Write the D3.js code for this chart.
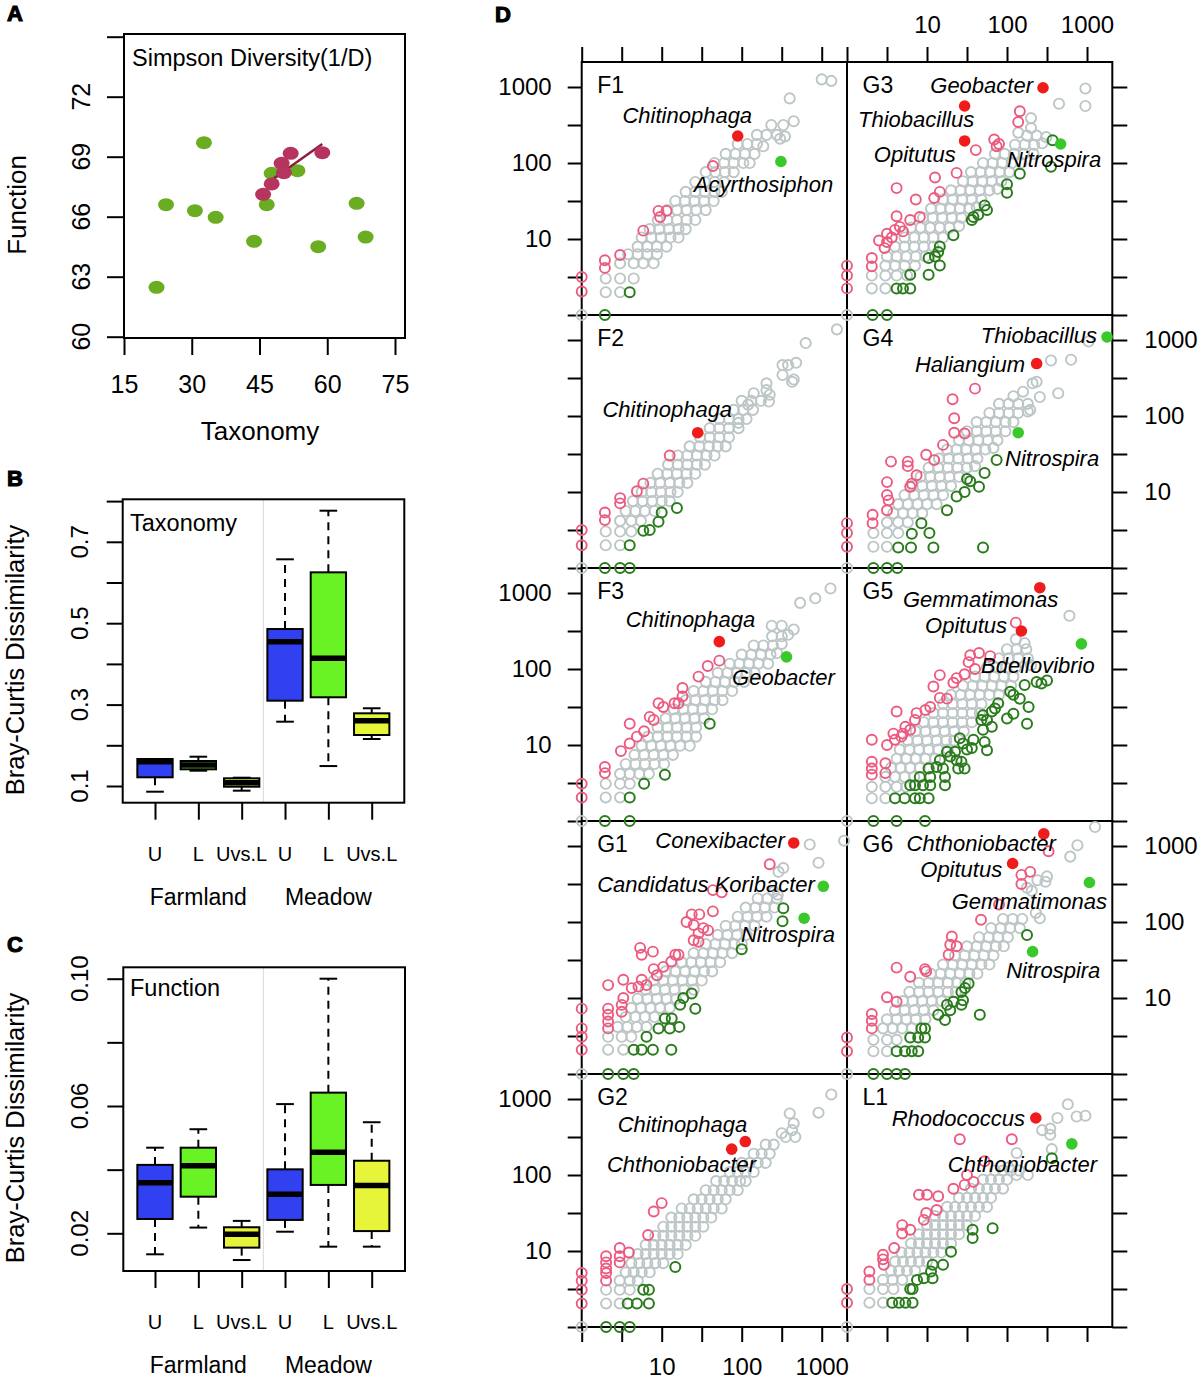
<!DOCTYPE html>
<html><head><meta charset="utf-8">
<script src="https://cdn.jsdelivr.net/npm/d3@7"></script>
<style>body{margin:0;background:#fff}svg{display:block}</style>
</head><body><svg id="c" width="1200" height="1384"></svg>
<script>
// ================= DATA =================
// Panel A : Simpson diversity (1/D), taxonomy vs function
const taxGreen = [32.7,24.3,30.7,35.3,22.2,43.8,46.6,47.7,53.4,58.0,66.5,68.5];
const funGreen = [69.7,66.6,66.3,65.97,62.47,64.77,66.6,68.17,68.3,64.5,66.67,64.98];
const taxRed = [45.8,47.7,49.9,50.4,51.9,58.9];
const funRed = [67.12,67.64,68.67,68.2,69.17,69.2];
const fitLine = [[46.1,67.58],[58.9,69.63]];
const aTicksX = [15,30,45,60,75];
const aTicksY = [60,63,66,69,72,75];
const aLabelsY = [60,63,66,69,72];

// Panels B / C : Bray-Curtis dissimilarity boxplots
const boxGroups = ["U","L","Uvs.L","U","L","Uvs.L"];
const boxSites = ["Farmland","Meadow"];
const taxMin = [0.086,0.1376,0.0885,0.258,0.149,0.2155];
const taxQ1  = [0.1214,0.141,0.0983,0.3096,0.318,0.2253];
const taxMed = [0.1597,0.1516,0.1081,0.4546,0.4137,0.2605];
const taxQ3  = [0.1663,0.1614,0.1189,0.4857,0.625,0.2786];
const taxMax = [0.1663,0.172,0.1204,0.657,0.7764,0.291];
const funMin = [0.0134,0.0218,0.0116,0.0205,0.0158,0.0158];
const funQ1  = [0.0245,0.0315,0.0155,0.0242,0.0352,0.0207];
const funMed = [0.0359,0.0412,0.0197,0.0323,0.0455,0.035];
const funQ3  = [0.0415,0.0469,0.0219,0.0401,0.0642,0.0428];
const funMax = [0.0469,0.0527,0.0239,0.0606,0.10,0.0549];
const bTicks = [0.1,0.2,0.3,0.4,0.5,0.6,0.7,0.8];
const bLabels = [0.1,0.3,0.5,0.7];
const cTicks = [0.02,0.04,0.06,0.08,0.10];
const cLabels = [0.02,0.06,0.10];

// Panel D : log10 abundance, [x, y]
const dTicks = [0,0.5,1,1.5,2,2.5,3];
const dTickText = {1:"10",2:"100",3:"1000"};

const F1_grey = [[0,0],[.30,.30],[.48,.30],[.30,.48],[.48,.48],[.65,.48],[.48,.68],[.65,.68],[.77,.68],[.90,.68],[.58,.80],[.70,.80],[.82,.80],[.94,.80],[.70,.90],[.82,.90],[.94,.90],[1.06,.90],[.75,1.02],[.87,1.02],[.99,1.02],[1.11,1.02],[1.21,1.02],[.85,1.13],[.97,1.13],[1.09,1.13],[1.21,1.13],[1.30,1.13],[.95,1.25],[1.07,1.25],[1.19,1.25],[1.31,1.25],[1.42,1.25],[1.07,1.38],[1.19,1.38],[1.31,1.38],[1.43,1.38],[1.55,1.38],[1.17,1.50],[1.29,1.50],[1.41,1.50],[1.53,1.50],[1.65,1.50],[1.30,1.62],[1.42,1.62],[1.54,1.62],[1.66,1.62],[1.75,1.62],[1.42,1.75],[1.54,1.75],[1.66,1.75],[1.78,1.75],[1.55,1.88],[1.67,1.88],[1.79,1.88],[1.90,1.88],[1.66,2.00],[1.78,2.00],[1.90,2.00],[2.02,2.00],[2.10,2.00],[1.80,2.12],[1.92,2.12],[2.04,2.12],[2.16,2.12],[1.95,2.25],[2.07,2.25],[2.19,2.25],[2.27,2.22],[2.19,2.37],[2.31,2.37],[2.44,2.37],[2.54,2.35],[2.48,2.32],[2.37,2.50],[2.52,2.50],[2.65,2.55],[2.60,2.85],[3.00,3.10],[3.12,3.08]];
const F1_pink = [[0,.50],[0,.31],[.29,.72],[.29,.62],[.48,.79],[.77,1.11],[.96,1.37],[.98,1.29],[1.06,1.37],[1.64,1.96]];
const F1_dark = [[.60,.30],[.29,0]];
const F1_red = [[1.95,2.355]];
const F1_lime = [[2.49,2.02]];

const G3_grey = [[0,0],[.31,.35],[.48,.35],[.31,.52],[.48,.52],[.62,.52],[.75,.52],[.48,.65],[.60,.65],[.72,.65],[.85,.65],[.50,.77],[.62,.77],[.74,.77],[.86,.77],[.98,.77],[.60,.90],[.72,.90],[.84,.90],[.96,.90],[1.08,.90],[.72,1.02],[.84,1.02],[.96,1.02],[1.08,1.02],[1.20,1.02],[.80,1.15],[.92,1.15],[1.04,1.15],[1.16,1.15],[1.28,1.15],[1.40,1.17],[.95,1.28],[1.07,1.28],[1.19,1.28],[1.31,1.28],[1.43,1.28],[1.05,1.40],[1.17,1.40],[1.29,1.40],[1.41,1.40],[1.53,1.40],[1.62,1.42],[1.20,1.52],[1.32,1.52],[1.44,1.52],[1.56,1.52],[1.68,1.52],[1.30,1.64],[1.42,1.64],[1.54,1.64],[1.66,1.64],[1.78,1.64],[1.88,1.66],[1.45,1.76],[1.57,1.76],[1.69,1.76],[1.81,1.76],[1.93,1.76],[1.55,1.88],[1.67,1.88],[1.79,1.88],[1.91,1.88],[2.03,1.88],[1.70,2.00],[1.82,2.00],[1.94,2.00],[2.06,2.00],[2.18,2.00],[1.85,2.12],[1.97,2.12],[2.09,2.12],[2.21,2.12],[2.33,2.12],[2.10,2.24],[2.22,2.24],[2.34,2.24],[2.44,2.26],[2.25,2.36],[2.37,2.36],[2.49,2.34],[2.14,2.40],[2.30,2.59],[2.30,2.46],[2.65,2.78],[2.98,2.98],[2.98,2.75]];
const G3_pink = [[0,.65],[0,.52],[0,.35],[.31,.75],[.31,.64],[.47,.88],[.50,.96],[.50,1.07],[.60,1.12],[.66,1.16],[.62,1.30],[.79,1.25],[.91,1.29],[.62,1.67],[.86,1.52],[1.09,1.54],[1.16,1.62],[1.10,1.81],[1.37,1.87],[1.61,2.17],[1.84,2.31],[1.90,2.25],[1.87,2.22],[2.16,2.68],[2.14,2.54],[.40,.98],[.56,1.02],[.70,1.10]];
const G3_dark = [[2.57,2.30],[2.55,1.95],[2.16,1.86],[2.0,1.72],[2.0,1.61],[1.72,1.44],[1.75,1.38],[1.58,1.29],[1.64,1.32],[1.56,1.25],[1.33,1.05],[1.16,.90],[1.14,.83],[1.10,.77],[1.02,.75],[1.16,.65],[1.02,.53],[.79,.53],[.62,.35],[.70,.35],[.79,.35],[.32,0],[.50,0]];
const G3_red = [[2.45,2.99],[1.47,2.75],[1.47,2.29]];
const G3_lime = [[2.67,2.25]];

const F2_grey = [[0,0],[.30,.30],[.48,.30],[.30,.48],[.48,.48],[.62,.48],[.48,.62],[.62,.62],[.74,.62],[.55,.75],[.67,.75],[.79,.75],[.91,.75],[.64,.88],[.76,.88],[.88,.88],[1.00,.88],[1.10,.88],[.75,1.00],[.87,1.00],[.99,1.00],[1.11,1.00],[1.20,1.00],[.86,1.12],[.98,1.12],[1.10,1.12],[1.22,1.12],[1.32,1.12],[.95,1.24],[1.07,1.24],[1.19,1.24],[1.31,1.24],[1.42,1.24],[1.08,1.36],[1.20,1.36],[1.32,1.36],[1.44,1.36],[1.54,1.36],[1.20,1.48],[1.32,1.48],[1.44,1.48],[1.56,1.48],[1.66,1.48],[1.35,1.60],[1.47,1.60],[1.59,1.60],[1.70,1.60],[1.80,1.60],[1.48,1.72],[1.60,1.72],[1.72,1.72],[1.84,1.72],[1.60,1.84],[1.72,1.84],[1.84,1.84],[1.96,1.84],[1.72,1.96],[1.84,1.96],[1.96,1.96],[2.06,1.96],[1.90,2.08],[2.02,2.08],[2.14,2.08],[2.00,2.20],[2.12,2.20],[2.24,2.20],[2.34,2.19],[2.15,2.30],[2.31,2.43],[2.31,2.34],[2.35,2.28],[2.51,2.67],[2.58,2.67],[2.68,2.70],[2.51,2.54],[2.63,2.45],[2.65,2.48],[2.80,2.96],[3.19,3.14],[2.08,2.15],[1.96,1.91]];
const F2_pink = [[0,.50],[0,.30],[.29,.73],[.29,.63],[.48,.92],[.48,.85],[.69,1.01],[.77,1.11],[1.10,1.48]];
const F2_dark = [[1.19,.79],[1.00,.73],[.96,.61],[.85,.50],[.77,.49],[.60,.30],[.29,0],[.48,0],[.60,0]];
const F2_red = [[1.45,1.78]];
const F2_lime = [];

const G4_grey = [[0,0],[.33,.28],[.50,.28],[.33,.46],[.50,.46],[.64,.46],[.50,.60],[.64,.60],[.76,.60],[.58,.72],[.70,.72],[.82,.72],[.94,.72],[.64,.84],[.76,.84],[.88,.84],[1.00,.84],[1.12,.84],[.72,.96],[.84,.96],[.96,.96],[1.08,.96],[1.20,.96],[.82,1.08],[.94,1.08],[1.06,1.08],[1.18,1.08],[1.30,1.08],[.92,1.20],[1.04,1.20],[1.16,1.20],[1.28,1.20],[1.40,1.20],[1.02,1.32],[1.14,1.32],[1.26,1.32],[1.38,1.32],[1.50,1.32],[1.60,1.34],[1.15,1.44],[1.27,1.44],[1.39,1.44],[1.51,1.44],[1.63,1.44],[1.25,1.56],[1.37,1.56],[1.49,1.56],[1.61,1.56],[1.73,1.56],[1.83,1.58],[1.40,1.68],[1.52,1.68],[1.64,1.68],[1.76,1.68],[1.88,1.68],[1.50,1.80],[1.62,1.80],[1.74,1.80],[1.86,1.80],[1.98,1.80],[1.62,1.92],[1.74,1.92],[1.86,1.92],[1.98,1.92],[2.08,1.92],[1.78,2.04],[1.90,2.04],[2.02,2.04],[2.14,2.04],[2.26,2.06],[1.90,2.16],[2.02,2.16],[2.14,2.16],[2.26,2.16],[2.32,2.43],[2.37,2.45],[2.20,2.32],[2.08,2.26],[2.41,2.25],[2.64,2.30],[2.29,2.08],[2.55,2.73],[2.80,2.74],[3.02,2.98]];
const G4_pink = [[0,.59],[0,.46],[0,.28],[.32,.70],[.32,.59],[.50,.76],[.52,.89],[.50,.96],[.50,1.13],[.79,1.07],[.81,1.11],[.87,1.22],[.76,1.40],[.76,1.34],[.55,1.40],[.99,1.49],[1.09,1.42],[1.20,1.62],[1.34,1.97],[1.34,1.78],[1.47,1.77],[1.32,2.22],[1.60,2.36]];
const G4_dark = [[1.87,1.42],[1.72,1.25],[1.50,1.17],[1.54,1.14],[1.65,1.07],[1.47,1.00],[1.37,.94],[1.25,.76],[.93,.59],[.81,.45],[1.03,.46],[.64,.27],[.80,.27],[1.08,.27],[1.70,.27],[.33,0],[.50,0],[.63,0]];
const G4_red = [[2.37,2.69]];
const G4_lime = [[3.25,3.04],[2.14,1.78]];

const F3_grey = [[0,0],[.30,.31],[.48,.31],[.30,.49],[.48,.49],[.60,.49],[.48,.62],[.60,.62],[.72,.62],[.84,.62],[.55,.75],[.67,.75],[.79,.75],[.91,.75],[1.03,.75],[.66,.87],[.78,.87],[.90,.87],[1.02,.87],[1.14,.87],[.75,.99],[.87,.99],[.99,.99],[1.11,.99],[1.23,.99],[1.35,.99],[.83,1.11],[.95,1.11],[1.07,1.11],[1.19,1.11],[1.31,1.11],[1.43,1.11],[.95,1.23],[1.07,1.23],[1.19,1.23],[1.31,1.23],[1.43,1.23],[1.05,1.35],[1.17,1.35],[1.29,1.35],[1.41,1.35],[1.53,1.35],[1.15,1.47],[1.27,1.47],[1.39,1.47],[1.51,1.47],[1.63,1.47],[1.30,1.59],[1.42,1.59],[1.54,1.59],[1.66,1.59],[1.76,1.59],[1.40,1.71],[1.52,1.71],[1.64,1.71],[1.76,1.71],[1.88,1.71],[1.55,1.83],[1.67,1.83],[1.79,1.83],[1.91,1.83],[2.03,1.83],[1.70,1.95],[1.82,1.95],[1.94,1.95],[2.06,1.95],[2.16,1.95],[1.85,2.07],[1.97,2.07],[2.09,2.07],[2.21,2.07],[2.33,2.07],[2.00,2.19],[2.12,2.19],[2.24,2.19],[2.36,2.19],[2.44,2.21],[2.15,2.31],[2.27,2.31],[2.39,2.31],[2.50,2.33],[2.38,2.43],[2.50,2.43],[2.58,2.45],[2.65,2.52],[2.50,2.57],[2.375,2.57],[2.73,2.87],[2.92,2.93],[3.11,3.06]];
const F3_pink = [[0,.49],[0,.31],[.29,.71],[.29,.63],[.49,.92],[.60,1.02],[.69,1.11],[.60,1.28],[.85,1.37],[.90,1.33],[.96,1.55],[1.16,1.55],[1.21,1.55],[1.26,1.64],[1.26,1.75],[1.46,1.90],[1.575,2.04],[1.72,2.11],[.78,1.18],[1.02,1.50]];
const F3_dark = [[1.60,1.28],[1.04,.61],[.78,.49],[.60,.31],[.29,0],[.60,0]];
const F3_red = [[1.72,2.36]];
const F3_lime = [[2.56,2.16]];

const G5_grey = [[0,0],[.31,.30],[.48,.30],[.31,.45],[.48,.45],[.62,.45],[.74,.45],[.48,.58],[.60,.58],[.72,.58],[.84,.58],[.55,.70],[.67,.70],[.79,.70],[.91,.70],[1.02,.70],[.62,.82],[.74,.82],[.86,.82],[.98,.82],[1.10,.82],[.66,.94],[.78,.94],[.90,.94],[1.02,.94],[1.14,.94],[1.26,.94],[.76,1.06],[.88,1.06],[1.00,1.06],[1.12,1.06],[1.24,1.06],[1.34,1.06],[.86,1.18],[.98,1.18],[1.10,1.18],[1.22,1.18],[1.34,1.18],[1.46,1.18],[.96,1.30],[1.08,1.30],[1.20,1.30],[1.32,1.30],[1.44,1.30],[1.56,1.30],[1.08,1.42],[1.20,1.42],[1.32,1.42],[1.44,1.42],[1.56,1.42],[1.66,1.42],[1.20,1.54],[1.32,1.54],[1.44,1.54],[1.56,1.54],[1.68,1.54],[1.30,1.66],[1.42,1.66],[1.54,1.66],[1.66,1.66],[1.78,1.66],[1.90,1.66],[1.45,1.78],[1.57,1.78],[1.69,1.78],[1.81,1.78],[1.93,1.78],[2.05,1.78],[1.60,1.90],[1.72,1.90],[1.84,1.90],[1.96,1.90],[2.08,1.90],[1.75,2.02],[1.87,2.02],[1.99,2.02],[2.11,2.02],[1.90,2.14],[2.02,2.14],[2.14,2.14],[2.26,2.14],[2.00,2.26],[2.12,2.26],[2.24,2.26],[2.78,2.70],[2.11,2.39],[2.22,2.34],[2.30,2.05]];
const G5_pink = [[2.11,2.61],[1.54,2.18],[1.65,2.21],[1.79,2.17],[1.52,2.09],[1.60,2.0],[1.47,1.93],[1.37,1.88],[1.16,1.92],[1.08,1.77],[1.33,1.82],[1.16,1.62],[1.25,1.61],[1.04,1.50],[.87,1.42],[.98,1.46],[.85,1.33],[.62,1.44],[.73,1.24],[.79,1.20],[.70,1.15],[.58,1.15],[.60,1.07],[.50,1.0],[.31,1.07],[.31,.78],[.31,.69],[.31,.61],[.48,.76],[.48,.63],[.68,1.11]];
const G5_dark = [[2.22,1.79],[2.37,1.83],[2.43,1.81],[2.50,1.85],[2.04,1.70],[2.08,1.66],[2.16,1.61],[2.27,1.50],[1.89,1.55],[1.85,1.48],[1.81,1.44],[2.0,1.35],[2.08,1.41],[2.25,1.28],[1.70,1.39],[1.75,1.33],[1.68,1.33],[1.81,1.24],[1.70,1.20],[1.58,1.07],[1.45,1.02],[1.41,1.09],[1.50,.94],[1.56,.96],[1.72,1.04],[1.75,.93],[1.35,.91],[1.29,.85],[1.37,.80],[1.43,.78],[1.47,.69],[1.39,.69],[1.25,.91],[1.16,.80],[1.20,.69],[1.12,.71],[1.02,.69],[1.04,.58],[.91,.58],[.95,.47],[1.04,.47],[1.225,.58],[1.225,.47],[.79,.47],[.85,.47],[.60,.30],[.72,.30],[.85,.30],[.91,.30],[1.02,.30],[.33,0],[.62,0],[.975,0]];
const G5_red = [[2.41,3.07],[2.18,2.50]];
const G5_lime = [[2.93,2.33]];

const G1_grey = [[0,0],[.33,.32],[.52,.32],[.33,.49],[.50,.49],[.62,.49],[.45,.62],[.57,.62],[.69,.62],[.81,.62],[.55,.75],[.67,.75],[.79,.75],[.91,.75],[.62,.87],[.74,.87],[.86,.87],[.98,.87],[1.10,.87],[.70,.99],[.82,.99],[.94,.99],[1.06,.99],[1.18,.99],[.80,1.11],[.92,1.11],[1.04,1.11],[1.16,1.11],[1.28,1.11],[1.40,1.11],[.90,1.23],[1.02,1.23],[1.14,1.23],[1.26,1.23],[1.38,1.23],[1.50,1.23],[1.05,1.35],[1.17,1.35],[1.29,1.35],[1.41,1.35],[1.53,1.35],[1.63,1.35],[1.25,1.47],[1.37,1.47],[1.49,1.47],[1.61,1.47],[1.73,1.47],[1.40,1.59],[1.52,1.59],[1.64,1.59],[1.76,1.59],[1.88,1.59],[1.55,1.71],[1.67,1.71],[1.79,1.71],[1.91,1.71],[2.00,1.71],[1.70,1.83],[1.82,1.83],[1.94,1.83],[2.06,1.83],[1.80,1.95],[1.92,1.95],[2.04,1.95],[2.16,1.95],[1.95,2.07],[2.07,2.07],[2.19,2.07],[2.31,2.07],[2.05,2.19],[2.17,2.19],[2.29,2.19],[2.41,2.19],[2.20,2.31],[2.32,2.31],[2.44,2.31],[2.85,3.02],[3.28,3.07],[2.96,2.78],[2.52,2.71],[2.46,2.66],[2.40,2.40],[2.45,2.36]];
const G1_pink = [[0,.86],[0,.60],[0,.49],[0,.32],[.33,.86],[.33,.78],[.33,.69],[.33,.60],[.52,1.0],[.50,.91],[.50,.82],[.33,1.17],[.52,1.24],[.75,1.24],[.71,1.15],[.625,1.13],[.81,1.17],[.90,1.38],[1.02,1.41],[.94,1.30],[1.17,1.57],[1.21,1.57],[1.12,1.48],[.73,1.66],[.75,1.57],[.89,1.61],[1.375,2.10],[1.47,2.10],[1.31,2.0],[1.40,1.96],[1.52,1.92],[1.46,1.85],[1.58,1.89],[1.40,1.76],[1.46,1.74],[1.64,2.14],[1.64,2.42],[1.75,2.39],[2.35,2.76]];
const G1_dark = [[2.52,2.18],[2.51,2.01],[2.0,1.64],[1.375,1.06],[1.27,1.0],[1.23,.91],[1.42,.86],[1.04,.73],[1.125,.73],[1.22,.62],[.96,.60],[1.10,.60],[.81,.49],[.65,.32],[.75,.32],[.89,.32],[1.12,.32],[.33,0],[.52,0],[.65,0]];
const G1_red = [[2.65,3.04]];
const G1_lime = [[3.02,2.47],[2.78,2.05]];

const G6_grey = [[0,0],[.33,.30],[.50,.30],[.33,.45],[.50,.45],[.62,.45],[.45,.60],[.57,.60],[.69,.60],[.81,.60],[.50,.72],[.62,.72],[.74,.72],[.86,.72],[.98,.72],[.60,.84],[.72,.84],[.84,.84],[.96,.84],[1.08,.84],[.70,.96],[.82,.96],[.94,.96],[1.06,.96],[1.18,.96],[.78,1.08],[.90,1.08],[1.02,1.08],[1.14,1.08],[1.26,1.08],[1.36,1.08],[.90,1.20],[1.02,1.20],[1.14,1.20],[1.26,1.20],[1.38,1.20],[1.48,1.20],[1.05,1.32],[1.17,1.32],[1.29,1.32],[1.41,1.32],[1.53,1.32],[1.63,1.32],[1.20,1.44],[1.32,1.44],[1.44,1.44],[1.56,1.44],[1.68,1.44],[1.78,1.44],[1.35,1.56],[1.47,1.56],[1.59,1.56],[1.71,1.56],[1.83,1.56],[1.50,1.68],[1.62,1.68],[1.74,1.68],[1.86,1.68],[1.96,1.68],[1.65,1.80],[1.77,1.80],[1.89,1.80],[2.01,1.80],[1.80,1.92],[1.92,1.92],[2.04,1.92],[2.16,1.92],[1.95,2.04],[2.07,2.04],[2.19,2.04],[3.10,3.25],[2.88,3.01],[2.79,2.86],[2.38,2.55],[2.48,2.53],[2.25,2.45],[2.31,2.41],[2.41,2.05],[2.36,2.12],[2.50,2.60]];
const G6_pink = [[0,.48],[0,.30],[.31,.79],[.31,.70],[.31,.60],[.50,1.01],[.62,.95],[.62,1.40],[.79,1.28],[.975,1.38],[.99,1.35],[1.27,1.57],[1.29,1.70],[1.37,1.68],[1.31,1.81],[1.675,2.03],[1.90,2.23],[2.18,2.62],[2.29,2.66],[2.18,2.50],[2.52,2.93]];
const G6_dark = [[2.25,1.83],[1.52,1.19],[1.475,1.13],[1.43,1.08],[1.45,.97],[1.43,.91],[1.33,.95],[1.25,.91],[1.29,.84],[1.66,.78],[1.14,.78],[1.225,.71],[.93,.60],[.975,.60],[.79,.48],[.89,.48],[.975,.48],[.62,.30],[.725,.30],[.81,.30],[.89,.30],[.33,0],[.50,0],[.62,0],[.725,0]];
const G6_red = [[2.46,3.16],[2.07,2.77]];
const G6_lime = [[3.03,2.52],[2.32,1.61]];

const G2_grey = [[0,0],[.305,.31],[.475,.31],[.305,.49],[.475,.49],[.60,.49],[.475,.61],[.60,.61],[.70,.61],[.55,.72],[.65,.72],[.75,.72],[.85,.72],[.62,.84],[.72,.84],[.82,.84],[.92,.84],[1.02,.84],[.70,.96],[.80,.96],[.90,.96],[1.00,.96],[1.10,.96],[1.20,.96],[.80,1.08],[.90,1.08],[1.00,1.08],[1.10,1.08],[1.20,1.08],[1.30,1.08],[.92,1.20],[1.02,1.20],[1.12,1.20],[1.22,1.20],[1.32,1.20],[1.42,1.20],[1.02,1.32],[1.12,1.32],[1.22,1.32],[1.32,1.32],[1.42,1.32],[1.52,1.32],[1.12,1.44],[1.22,1.44],[1.32,1.44],[1.42,1.44],[1.52,1.44],[1.62,1.44],[1.25,1.56],[1.35,1.56],[1.45,1.56],[1.55,1.56],[1.65,1.56],[1.75,1.56],[1.40,1.68],[1.50,1.68],[1.60,1.68],[1.70,1.68],[1.80,1.68],[1.55,1.80],[1.65,1.80],[1.75,1.80],[1.85,1.80],[1.95,1.80],[1.68,1.92],[1.78,1.92],[1.88,1.92],[1.98,1.92],[2.05,1.92],[1.85,2.04],[1.95,2.04],[2.05,2.04],[2.15,2.04],[2.00,2.16],[2.10,2.16],[2.20,2.16],[2.30,2.16],[2.15,2.28],[2.25,2.28],[2.35,2.28],[2.30,2.40],[2.40,2.40],[3.12,3.06],[2.96,2.82],[2.60,2.81],[2.50,2.55],[2.63,2.59],[2.65,2.68],[2.55,2.50],[2.67,2.50]];
const G2_pink = [[0,.71],[0,.61],[0,.49],[0,.31],[.305,.93],[.305,.85],[.305,.77],[.305,.71],[.305,.61],[.475,.93],[.475,.85],[.475,1.04],[.59,.98],[.83,1.21],[.90,1.52],[1.0,1.63]];
const G2_dark = [[1.17,.79],[.77,.49],[.84,.49],[.575,.31],[.69,.31],[.84,.31],[.305,0],[.475,0],[.60,0]];
const G2_red = [[1.875,2.34],[2.045,2.44]];
const G2_lime = [];

const L1_grey = [[0,0],[.28,.32],[.45,.32],[.28,.50],[.45,.50],[.58,.50],[.45,.62],[.57,.62],[.69,.62],[.55,.74],[.65,.74],[.75,.74],[.85,.74],[.60,.86],[.70,.86],[.80,.86],[.90,.86],[1.00,.86],[.68,.98],[.78,.98],[.88,.98],[.98,.98],[1.08,.98],[1.18,.98],[.80,1.10],[.90,1.10],[1.00,1.10],[1.10,1.10],[1.20,1.10],[1.30,1.10],[.90,1.22],[1.00,1.22],[1.10,1.22],[1.20,1.22],[1.30,1.22],[1.40,1.22],[1.00,1.34],[1.10,1.34],[1.20,1.34],[1.30,1.34],[1.40,1.34],[1.50,1.34],[1.10,1.46],[1.20,1.46],[1.30,1.46],[1.40,1.46],[1.50,1.46],[1.60,1.46],[1.25,1.58],[1.35,1.58],[1.45,1.58],[1.55,1.58],[1.65,1.58],[1.75,1.58],[1.40,1.70],[1.50,1.70],[1.60,1.70],[1.70,1.70],[1.80,1.70],[1.55,1.82],[1.65,1.82],[1.75,1.82],[1.85,1.82],[1.95,1.82],[1.70,1.94],[1.80,1.94],[1.90,1.94],[2.00,1.94],[1.85,2.06],[1.95,2.06],[2.05,2.06],[2.15,2.06],[2.76,2.93],[2.98,2.78],[2.87,2.77],[2.63,2.75],[2.44,2.59],[2.54,2.61],[2.54,2.53],[2.56,2.34],[2.26,2.0],[2.12,2.0],[2.12,2.29],[2.02,2.10]];
const L1_pink = [[0,.50],[0,.32],[.28,.73],[.28,.62],[.45,.95],[.45,.89],[.46,.82],[.59,1.04],[.69,1.34],[.69,1.23],[.79,1.28],[.99,1.50],[1.12,1.54],[.96,1.41],[.90,1.74],[1.0,1.74],[1.14,1.72],[1.33,1.82],[1.50,2.0],[1.47,1.87],[1.58,1.91],[1.72,2.18],[1.41,2.47],[2.06,2.47]];
const L1_dark = [[2.56,2.22],[1.82,1.30],[1.57,1.28],[1.57,1.17],[1.30,.99],[1.20,.82],[1.07,.82],[1.05,.73],[.96,.64],[1.07,.64],[.875,.62],[.79,.50],[.82,.50],[.565,.32],[.65,.32],[.73,.32],[.82,.32]];
const L1_red = [[2.36,2.75]];
const L1_lime = [[2.81,2.41]];

const dLabels = [
 {p:"F1",t:"Chitinophaga",x:2.13,y:2.53,a:"end"},
 {p:"F1",t:"Acyrthosiphon",x:1.40,y:1.62,a:"start"},
 {p:"G3",t:"Geobacter",x:2.325,y:2.925,a:"end"},
 {p:"G3",t:"Thiobacillus",x:1.59,y:2.47,a:"end"},
 {p:"G3",t:"Opitutus",x:1.36,y:2.01,a:"end"},
 {p:"G3",t:"Nitrospira",x:2.0,y:1.95,a:"start"},
 {p:"F2",t:"Chitinophaga",x:1.88,y:1.99,a:"end"},
 {p:"G4",t:"Thiobacillus",x:3.125,y:2.96,a:"end"},
 {p:"G4",t:"Haliangium",x:2.225,y:2.58,a:"end"},
 {p:"G4",t:"Nitrospira",x:1.975,y:1.34,a:"start"},
 {p:"F3",t:"Chitinophaga",x:2.17,y:2.55,a:"end"},
 {p:"F3",t:"Geobacter",x:1.88,y:1.79,a:"start"},
 {p:"G5",t:"Gemmatimonas",x:2.64,y:2.82,a:"end"},
 {p:"G5",t:"Opitutus",x:2.0,y:2.47,a:"end"},
 {p:"G5",t:"Bdellovibrio",x:1.675,y:1.95,a:"start"},
 {p:"G1",t:"Conexibacter",x:2.54,y:2.97,a:"end"},
 {p:"G1",t:"Candidatus Koribacter",x:2.915,y:2.39,a:"end"},
 {p:"G1",t:"Nitrospira",x:1.99,y:1.74,a:"start"},
 {p:"G6",t:"Chthoniobacter",x:2.61,y:2.93,a:"end"},
 {p:"G6",t:"Opitutus",x:1.94,y:2.59,a:"end"},
 {p:"G6",t:"Gemmatimonas",x:3.25,y:2.17,a:"end"},
 {p:"G6",t:"Nitrospira",x:1.99,y:1.26,a:"start"},
 {p:"G2",t:"Chitinophaga",x:2.07,y:2.57,a:"end"},
 {p:"G2",t:"Chthoniobacter",x:2.18,y:2.04,a:"end"},
 {p:"L1",t:"Rhodococcus",x:2.225,y:2.64,a:"end"},
 {p:"L1",t:"Chthoniobacter",x:3.125,y:2.04,a:"end"}
];

const dPanels = [
 {n:"F1",col:0,row:0,grey:F1_grey,pink:F1_pink,dark:F1_dark,red:F1_red,lime:F1_lime},
 {n:"G3",col:1,row:0,grey:G3_grey,pink:G3_pink,dark:G3_dark,red:G3_red,lime:G3_lime},
 {n:"F2",col:0,row:1,grey:F2_grey,pink:F2_pink,dark:F2_dark,red:F2_red,lime:F2_lime},
 {n:"G4",col:1,row:1,grey:G4_grey,pink:G4_pink,dark:G4_dark,red:G4_red,lime:G4_lime},
 {n:"F3",col:0,row:2,grey:F3_grey,pink:F3_pink,dark:F3_dark,red:F3_red,lime:F3_lime},
 {n:"G5",col:1,row:2,grey:G5_grey,pink:G5_pink,dark:G5_dark,red:G5_red,lime:G5_lime},
 {n:"G1",col:0,row:3,grey:G1_grey,pink:G1_pink,dark:G1_dark,red:G1_red,lime:G1_lime},
 {n:"G6",col:1,row:3,grey:G6_grey,pink:G6_pink,dark:G6_dark,red:G6_red,lime:G6_lime},
 {n:"G2",col:0,row:4,grey:G2_grey,pink:G2_pink,dark:G2_dark,red:G2_red,lime:G2_lime},
 {n:"L1",col:1,row:4,grey:L1_grey,pink:L1_pink,dark:L1_dark,red:L1_red,lime:L1_lime}
];

// ================= DRAWING =================
const FONT = '"Liberation Sans", Arial, Helvetica, sans-serif';
const svg = d3.select("#c").attr("font-family", FONT);

function styleAxis(g, fs){
  g.select(".domain").remove();
  g.selectAll(".tick line").attr("stroke","#000").attr("stroke-width",2);
  g.selectAll(".tick text").attr("font-size",fs).attr("font-family",FONT).attr("fill","#000");
}
function txt(g, s, x, y, fs, opt={}) {
  const t = g.append("text").attr("font-size",fs).attr("fill","#000").text(s);
  if (opt.rot) t.attr("transform",`translate(${x},${y}) rotate(${opt.rot})`);
  else t.attr("x",x).attr("y",y);
  t.attr("text-anchor",opt.anchor||"start");
  if (opt.bold) t.attr("font-weight","bold");
  if (opt.italic) t.attr("font-style","italic");
  return t;
}
function frame(g,x0,y0,x1,y1){
  g.append("rect").attr("x",x0).attr("y",y0).attr("width",x1-x0).attr("height",y1-y0)
   .attr("fill","none").attr("stroke","#000").attr("stroke-width",2);
}

// panel letters
[["A",7,21],["B",7,486],["C",7,952],["D",495,22]].forEach(([s,x,y])=>
  txt(svg,s,x,y,22,{bold:true}).attr("stroke","#000").attr("stroke-width",1.1));

// ---------- Panel A ----------
{
  const g = svg.append("g");
  const x = d3.scaleLinear().domain([15,75]).range([124,395]);
  const y = d3.scaleLinear().domain([60,75]).range([336.7,36.7]);
  g.append("g").attr("transform","translate(0,338)")
    .call(d3.axisBottom(x).tickValues(aTicksX).tickSize(17).tickPadding(20)).call(styleAxis,25);
  g.append("g").attr("transform","translate(124,0)")
    .call(d3.axisLeft(y).tickValues(aTicksY).tickSize(17).tickFormat("")).call(styleAxis,25);
  aLabelsY.forEach(v => txt(g, String(v), 90, y(v), 25, {rot:-90, anchor:"middle"}));
  frame(g,124,34,405,338);
  txt(g,"Simpson Diversity(1/D)",132,66,23.5);
  txt(g,"Taxonomy",260,440,26,{anchor:"middle"});
  txt(g,"Function",26,205,26,{rot:-90,anchor:"middle"});
  g.selectAll(null).data(taxGreen).enter().append("ellipse")
    .attr("cx",d=>x(d)).attr("cy",(d,i)=>y(funGreen[i])).attr("rx",8).attr("ry",6.5).attr("fill","#6BAD22");
  g.append("line").attr("x1",x(fitLine[0][0])).attr("y1",y(fitLine[0][1]))
    .attr("x2",x(fitLine[1][0])).attr("y2",y(fitLine[1][1])).attr("stroke","#8E1E40").attr("stroke-width",2.5);
  g.selectAll(null).data(taxRed).enter().append("ellipse")
    .attr("cx",d=>x(d)).attr("cy",(d,i)=>y(funRed[i])).attr("rx",8).attr("ry",6.5).attr("fill","#B5355E");
}

// ---------- Panels B & C ----------
const boxFill = ["#3140F0","#69F224","#E6F53A","#3140F0","#69F224","#E6F53A"];
function boxPanel(cfg){
  const g = svg.append("g");
  const x = d3.scaleLinear().domain([1,6]).range([155,371.7]);
  const y = d3.scaleLinear().domain(cfg.dom).range(cfg.rng);
  const step = x(2)-x(1), bw = step*0.815;
  g.append("line").attr("x1",x(3.5)).attr("x2",x(3.5)).attr("y1",cfg.top).attr("y2",cfg.bot)
    .attr("stroke","#d8d8d8").attr("stroke-width",1);
  g.append("g").attr("transform",`translate(0,${cfg.bot})`)
    .call(d3.axisBottom(x).tickValues([1,2,3,4,5,6]).tickSize(17).tickFormat("")).call(styleAxis,20);
  g.append("g").attr("transform",`translate(${cfg.left},0)`)
    .call(d3.axisLeft(y).tickValues(cfg.ticks).tickSize(16).tickFormat("")).call(styleAxis,24);
  cfg.labels.forEach(v => txt(g, cfg.fmt(v), 88, y(v), 24, {rot:-90, anchor:"middle"}));
  boxGroups.forEach((s,i) => txt(g, s, x(i+1), cfg.labY, 20, {anchor:"middle"}));
  txt(g, boxSites[0], x(2), cfg.siteY, 23, {anchor:"middle"});
  txt(g, boxSites[1], x(5), cfg.siteY, 23, {anchor:"middle"});
  frame(g,cfg.left,cfg.top,cfg.right,cfg.bot);
  txt(g, cfg.title, 130, cfg.titleY, 23.5);
  txt(g, "Bray-Curtis Dissimilarity", 24, cfg.yLabY, 25.5, {rot:-90, anchor:"middle"});
  for (let i=0;i<6;i++){
    const cx = x(i+1);
    [[cfg.q3[i],cfg.max[i]],[cfg.q1[i],cfg.min[i]]].forEach(([a,b])=>{
      g.append("line").attr("x1",cx).attr("x2",cx).attr("y1",y(a)).attr("y2",y(b))
        .attr("stroke","#000").attr("stroke-width",2).attr("stroke-dasharray","8,6");
      g.append("line").attr("x1",cx-bw/4).attr("x2",cx+bw/4).attr("y1",y(b)).attr("y2",y(b))
        .attr("stroke","#000").attr("stroke-width",2);
    });
    g.append("rect").attr("x",cx-bw/2).attr("width",bw).attr("y",y(cfg.q3[i]))
      .attr("height",y(cfg.q1[i])-y(cfg.q3[i])).attr("fill",boxFill[i]).attr("stroke","#000").attr("stroke-width",2);
    g.append("line").attr("x1",cx-bw/2).attr("x2",cx+bw/2).attr("y1",y(cfg.med[i])).attr("y2",y(cfg.med[i]))
      .attr("stroke","#000").attr("stroke-width",5.5);
  }
}
boxPanel({dom:[0.1,0.8],rng:[786,501.1],top:499.3,bot:802.7,left:122.7,right:404.3,
  ticks:bTicks,labels:bLabels,fmt:d3.format(".1f"),labY:861,siteY:905,title:"Taxonomy",titleY:531,yLabY:660,
  min:taxMin,q1:taxQ1,med:taxMed,q3:taxQ3,max:taxMax});
boxPanel({dom:[0.02,0.10],rng:[1233.3,978.7],top:967.3,bot:1271,left:123.3,right:405,
  ticks:cTicks,labels:cLabels,fmt:d3.format(".2f"),labY:1329,siteY:1373,title:"Function",titleY:996,yLabY:1128,
  min:funMin,q1:funQ1,med:funMed,q3:funQ3,max:funMax});

// ---------- Panel D ----------
const DX0=581.7, DCW=265.3, DY0=62, DRH=253;
const xDom=[0,3.316], yDom=[0,3.329];
const gD = svg.append("g");
const xs = [0,1].map(c => d3.scaleLinear().domain(xDom).range([DX0+c*DCW, DX0+(c+1)*DCW]));
const ys = [0,1,2,3,4].map(r => d3.scaleLinear().domain(yDom).range([DY0+(r+1)*DRH, DY0+r*DRH]));
const fmtD = v => dTickText[v] || "";
[0,1,2,3,4].forEach(r=>{
  gD.append("g").attr("transform",`translate(${DX0},0)`)
    .call(d3.axisLeft(ys[r]).tickValues(dTicks).tickSize(14).tickPadding(16).tickFormat(r%2===0?fmtD:()=>""))
    .call(styleAxis,24);
  gD.append("g").attr("transform",`translate(${DX0+2*DCW},0)`)
    .call(d3.axisRight(ys[r]).tickValues(dTicks).tickSize(15).tickPadding(17).tickFormat(r%2===1?fmtD:()=>""))
    .call(styleAxis,24);
});
[0,1].forEach(c=>{
  gD.append("g").attr("transform",`translate(0,${DY0})`)
    .call(d3.axisTop(xs[c]).tickValues(dTicks).tickSize(15).tickPadding(14).tickFormat(c===1?fmtD:()=>""))
    .call(styleAxis,24);
  gD.append("g").attr("transform",`translate(0,${DY0+5*DRH})`)
    .call(d3.axisBottom(xs[c]).tickValues(dTicks).tickSize(15).tickPadding(16).tickFormat(c===0?fmtD:()=>""))
    .call(styleAxis,24);
});
dPanels.forEach(p => frame(gD, DX0+p.col*DCW, DY0+p.row*DRH, DX0+(p.col+1)*DCW, DY0+(p.row+1)*DRH));
function pts(g, data, x, y, r, fill, stroke, sw){
  g.selectAll(null).data(data).enter().append("circle")
    .attr("cx",d=>x(d[0])).attr("cy",d=>y(d[1])).attr("r",r)
    .attr("fill",fill).attr("stroke",stroke).attr("stroke-width",sw);
}
dPanels.forEach(p=>{
  const x = xs[p.col], y = ys[p.row];
  const g = gD.append("g");
  pts(g,p.grey,x,y,5.1,"none","#BDC6C6",1.9);
  pts(g,p.pink,x,y,5.0,"none","#EC5A7F",1.9);
  pts(g,p.dark,x,y,5.0,"none","#2A7B1C",2.0);
  pts(g,p.red,x,y,5.8,"#F01C1C","none",0);
  pts(g,p.lime,x,y,5.8,"#39C92B","none",0);
  txt(g,p.n,x.range()[0]+15.5,y.range()[1]+31,23);
});
dLabels.forEach(l=>{
  const p = dPanels.find(q=>q.n===l.p);
  txt(gD,l.t,xs[p.col](l.x),ys[p.row](l.y),22,{italic:true,anchor:l.a});
});
</script></body></html>
